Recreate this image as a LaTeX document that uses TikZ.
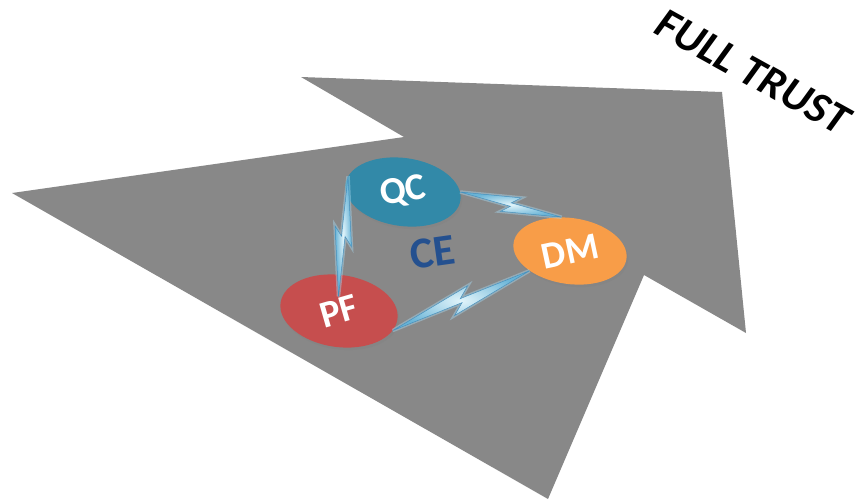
\documentclass[tikz,border=0pt]{standalone}
\usepackage{fontspec}
\setmainfont{Carlito}
\usetikzlibrary{shapes.geometric,calc,shadows}

\definecolor{arrowgray}{RGB}{136,136,136}
\definecolor{qcteal}{RGB}{50,137,168}
\definecolor{dmorange}{RGB}{248,157,72}
\definecolor{pfred}{RGB}{198,78,78}
\definecolor{ceblue}{RGB}{36,80,143}
\definecolor{boltinner}{RGB}{225,244,250}
\definecolor{boltouter}{RGB}{105,180,215}
\definecolor{boltedge}{RGB}{70,145,190}
\definecolor{boltglowc}{RGB}{165,215,238}

\tikzset{
  stage/.style={ellipse, inner sep=0pt, text=white,
    font=\bfseries\fontsize{38}{38}\selectfont,
    drop shadow={shadow xshift=1.5pt, shadow yshift=-2.5pt, opacity=0.35}},
  boltbody/.style={inner color=boltinner, outer color=boltouter,
    draw=boltedge, line width=0.5pt, line join=miter,
    preaction={draw=boltglowc, line width=3.5pt, opacity=0.45}},
}

% double-headed lightning bolt between two points; #1 = half width
\newcommand\lightningbolt[3]{%
  \shade[boltbody] (#2)
    -- ($(#2)!0.58!(#3)!{#1}!90:(#3)$)
    -- ($(#2)!0.5!(#3)!{0.2*#1}!90:(#3)$)
    -- (#3)
    -- ($(#2)!0.42!(#3)!{#1}!-90:(#3)$)
    -- ($(#2)!0.5!(#3)!{0.2*#1}!-90:(#3)$)
    -- cycle;}

\begin{document}
\begin{tikzpicture}[x=1pt,y=-1pt]
\useasboundingbox (0,0) rectangle (862,499);
\fill[white] (0,0) rectangle (862,499);

% the big grey arrow pointing up and to the right
\fill[arrowgray] (12,193) -- (404,137) -- (301,77) -- (722,92)
  -- (746,333) -- (644,275) -- (548,499) -- cycle;

% the three stages
\node[stage, fill=qcteal, minimum width=116pt, minimum height=68pt, rotate=-8]
  (QC) at (403,192) {\rotatebox{18}{QC}};
\node[stage, fill=dmorange, minimum width=114pt, minimum height=66pt, rotate=-8]
  (DM) at (570,251) {\rotatebox{20}{DM}};
\node[stage, fill=pfred, minimum width=118pt, minimum height=72pt, rotate=-8]
  (PF) at (339,311) {\rotatebox{24}{PF}};

% centre label
\node[text=ceblue, font=\bfseries\fontsize{44}{44}\selectfont, rotate=8]
  (CE) at (433,252) {CE};

% lightning connectors
\lightningbolt{9pt}{QC.8}{DM.112}
\lightningbolt{9pt}{QC.172}{$(PF.100)!0.6!(PF)$}
\lightningbolt{11pt}{PF.-12}{DM.214}

% caption along the arrow tip
\node[font=\bfseries\itshape\fontsize{44}{44}\selectfont, rotate=-29]
  (FT) at (753,72) {FULL TRUST};
\end{tikzpicture}
\end{document}
